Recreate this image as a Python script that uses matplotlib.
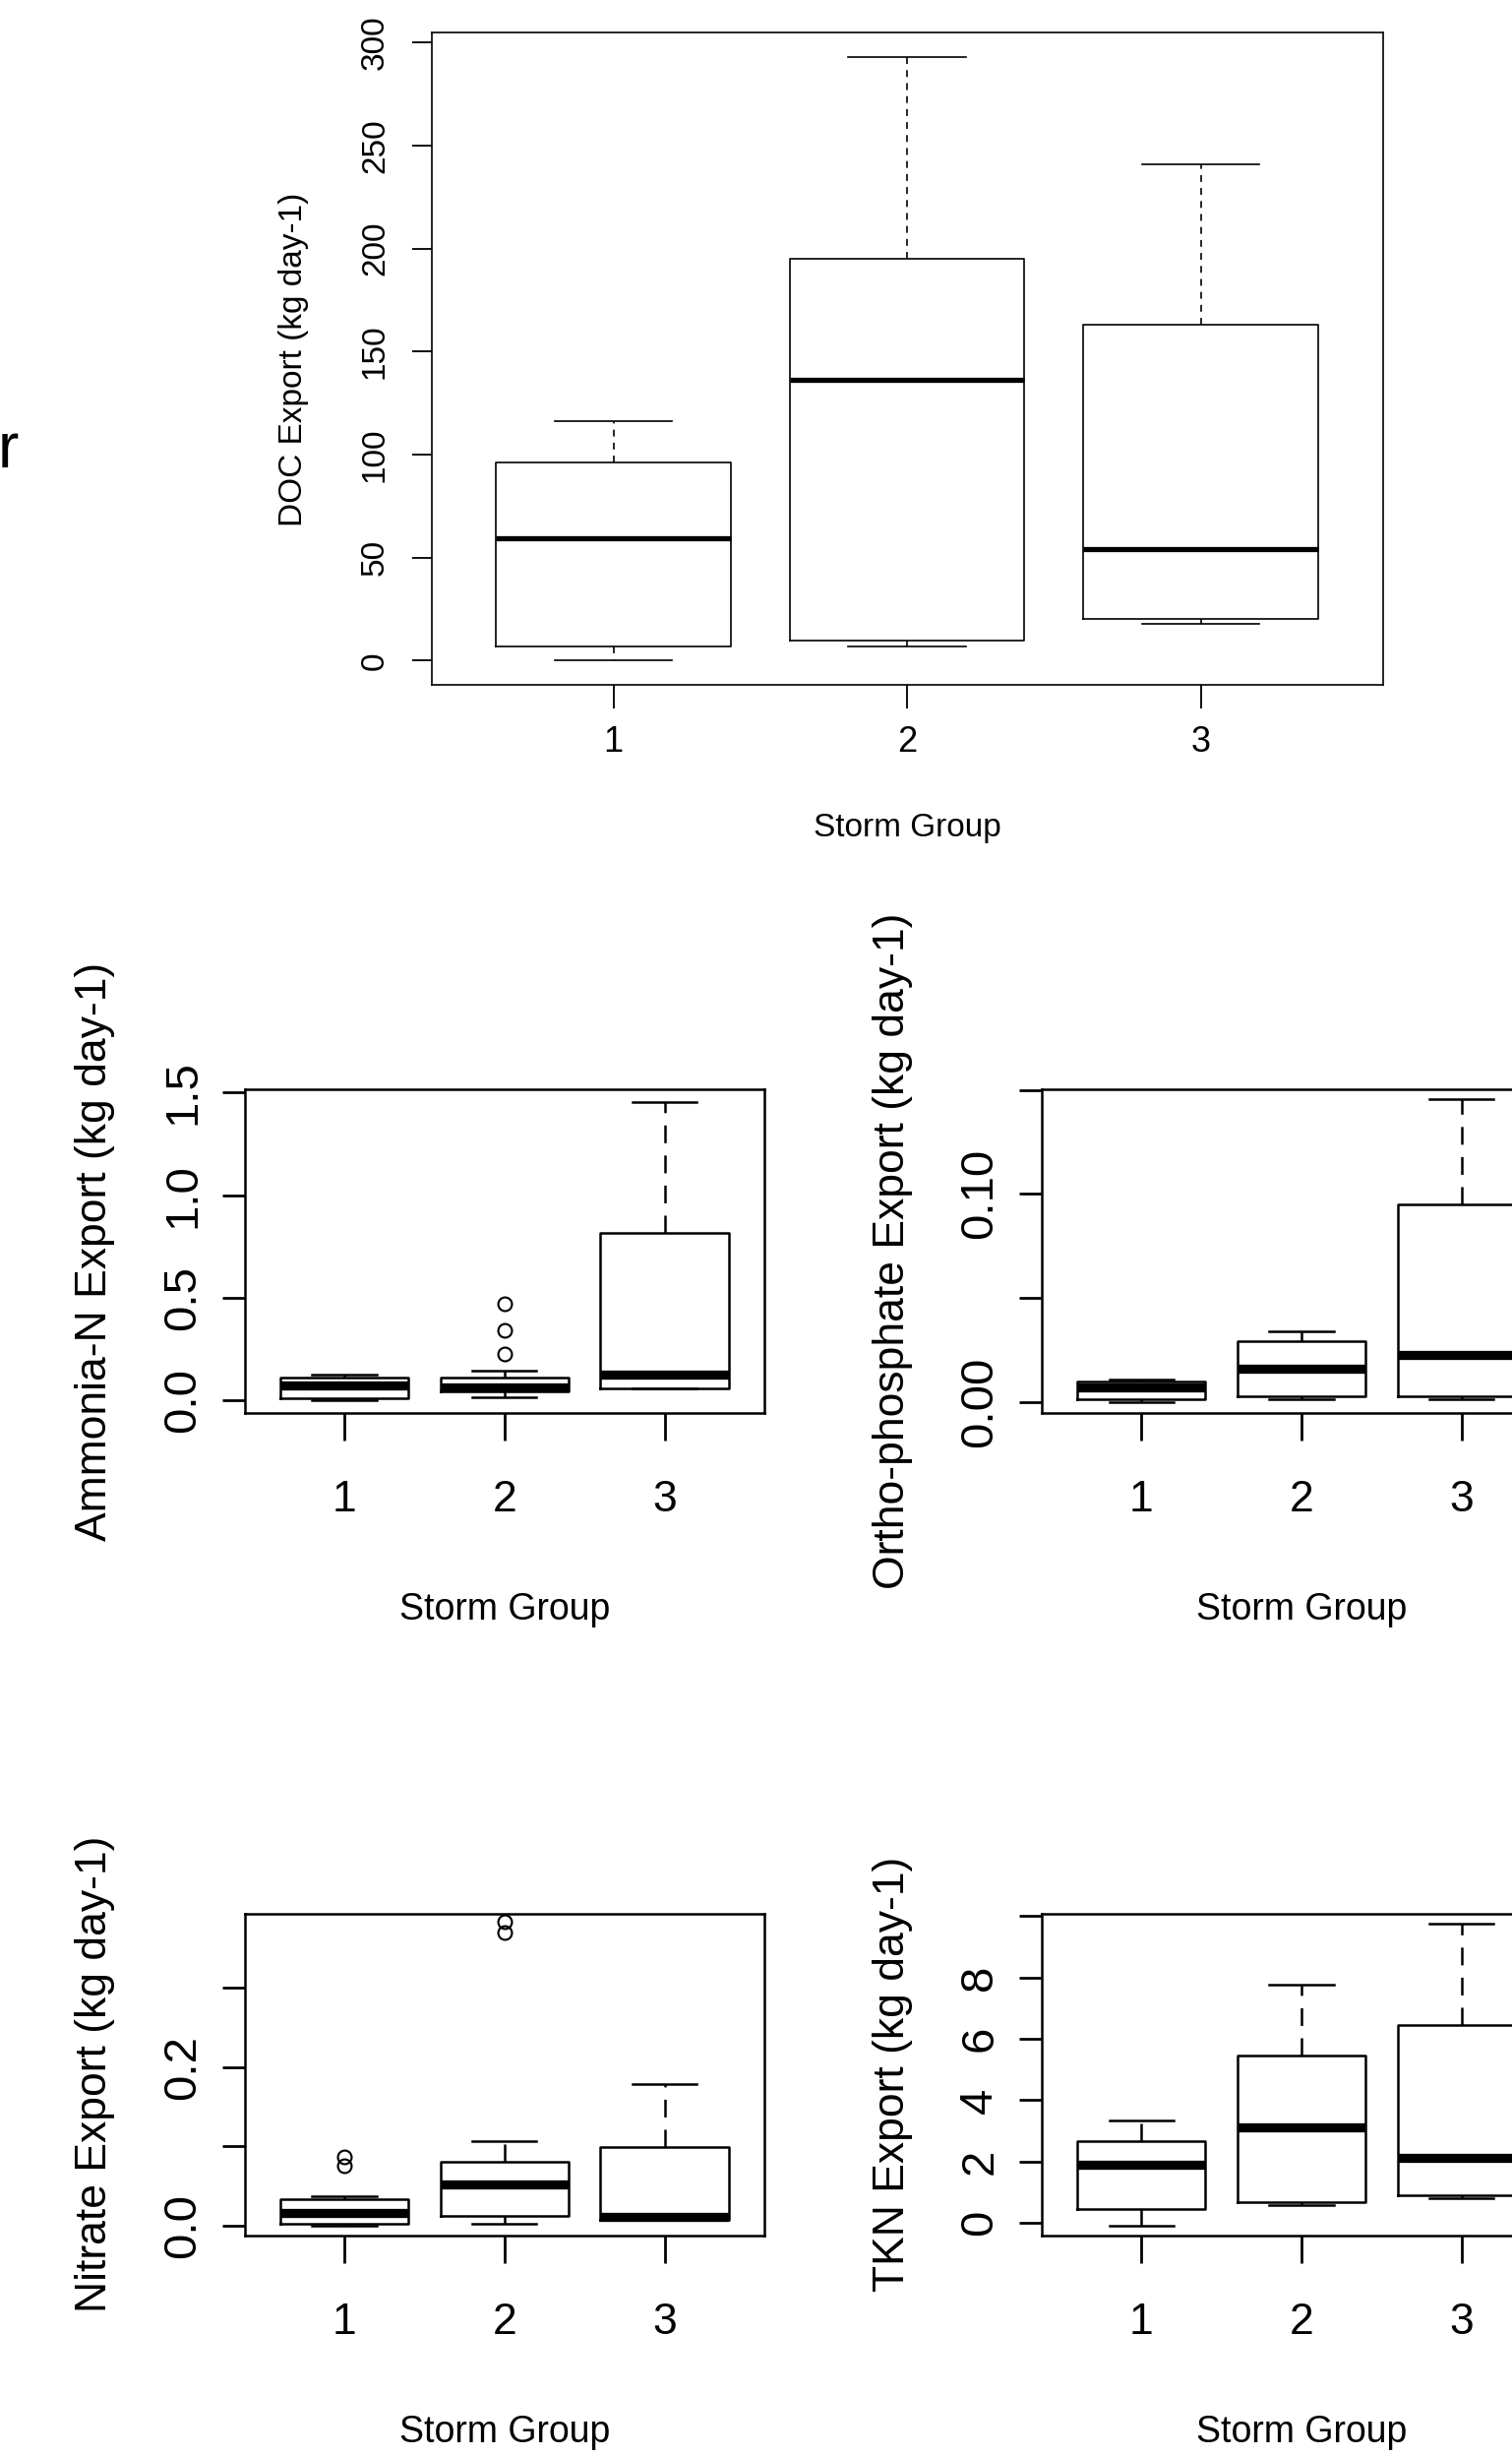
import matplotlib
matplotlib.use('Agg')
import matplotlib.pyplot as plt
from matplotlib import font_manager

# figure size in pixels
W, H = 1537, 2496

groups = [1, 2, 3]
group_labels = ['1', '2', '3']

# DOC export (kg day-1)
doc_lo = [0.0, 7.0, 18.0]
doc_q1 = [7.0, 10.0, 20.5]
doc_med = [59.5, 136.5, 54.0]
doc_q3 = [96.0, 195.0, 163.0]
doc_hi = [116.0, 293.0, 241.0]
doc_fliers = [[], [], []]

# Ammonia-N export
nh4_lo = [0.0, 0.015, 0.06]
nh4_q1 = [0.01, 0.044, 0.06]
nh4_med = [0.075, 0.063, 0.128]
nh4_q3 = [0.111, 0.111, 0.818]
nh4_hi = [0.128, 0.145, 1.455]
nh4_fliers = [[], [0.225, 0.341, 0.472], []]

# Ortho-phosphate export
po4_lo = [0.0, 0.0015, 0.0015]
po4_q1 = [0.0012, 0.0027, 0.0027]
po4_med = [0.0068, 0.016, 0.0225]
po4_q3 = [0.0097, 0.0291, 0.0952]
po4_hi = [0.0109, 0.0341, 0.1455]
po4_fliers = [[], [], []]

# Nitrate export
no3_lo = [0.0, 0.003, 0.0077]
no3_q1 = [0.0024, 0.0118, 0.0077]
no3_med = [0.016, 0.0515, 0.0112]
no3_q3 = [0.0337, 0.081, 0.0988]
no3_hi = [0.0367, 0.1065, 0.179]
no3_fliers = [[0.075, 0.087], [0.369, 0.383], []]

# TKN export
tkn_lo = [-0.08, 0.59, 0.81]
tkn_q1 = [0.46, 0.69, 0.90]
tkn_med = [1.91, 3.13, 2.13]
tkn_q3 = [2.67, 5.46, 6.45]
tkn_hi = [3.34, 7.77, 9.76]
tkn_fliers = [[], [], []]

names = {f.name for f in font_manager.fontManager.ttflist}
SANS = 'Liberation Sans'
NARROW = 'Liberation Sans Narrow' if 'Liberation Sans Narrow' in names else SANS
plt.rcParams['font.family'] = SANS
plt.rcParams['lines.scale_dashes'] = False

fig = plt.figure(figsize=(W / 100, H / 100), dpi=100)


def px_axes(x0, y0, x1, y1):
    return fig.add_axes([x0 / W, 1 - y1 / H, (x1 - x0) / W, (y1 - y0) / H])


def stats(lo, q1, med, q3, hi, fl):
    return [dict(whislo=a, q1=b, med=c, q3=d, whishi=e, fliers=f)
            for a, b, c, d, e, f in zip(lo, q1, med, q3, hi, fl)]


def draw_panel(ax, st, ylim, yticks, ylabels, lw, medlw, dash, ms, xt_font, xt_size,
               yt_size, ylen, xlen, ypad, xpad):
    ax.bxp(st, positions=groups, widths=0.8, capwidths=0.4,
           boxprops=dict(color='black', linewidth=lw),
           medianprops=dict(color='black', linewidth=medlw, solid_capstyle='butt'),
           whiskerprops=dict(color='black', linewidth=lw, linestyle=(0, dash)),
           capprops=dict(color='black', linewidth=lw),
           flierprops=dict(marker='o', markerfacecolor='none', markeredgecolor='black',
                           markersize=ms, markeredgewidth=lw * 0.85))
    ax.set_xlim(0.38, 3.62)
    ax.set_ylim(*ylim)
    ax.set_xticks(groups)
    ax.set_xticklabels(group_labels, fontsize=xt_size, family=xt_font)
    ax.set_yticks(yticks)
    ax.set_yticklabels(ylabels, fontsize=yt_size, rotation=90, va='center')
    ax.tick_params(axis='y', direction='out', length=ylen, width=lw * 1.1, pad=ypad)
    ax.tick_params(axis='x', direction='out', length=xlen, width=lw * 1.1, pad=xpad)
    for s in ax.spines.values():
        s.set_linewidth(lw)
        s.set_color('black')


def fig_text(x, y, s, **kw):
    fig.text(x / W, 1 - y / H, s, ha='center', va='center', **kw)


# ---- top panel: DOC ----
ax = px_axes(438.5, 32.8, 1405.6, 696)
draw_panel(ax, stats(doc_lo, doc_q1, doc_med, doc_q3, doc_hi, doc_fliers),
           (-11.7, 304.9), [0, 50, 100, 150, 200, 250, 300],
           ['0', '50', '100', '150', '200', '250', '300'],
           lw=1.2, medlw=3.8, dash=(5, 4.5), ms=8, xt_font=SANS, xt_size=26,
           yt_size=24, ylen=14.4, xlen=17.3, ypad=15.5, xpad=12.5)
fig_text(922, 841, 'Storm Group', fontsize=24)
fig_text(298, 365, 'DOC Export (kg day-1)', fontsize=24, rotation=90)
fig.text(-2 / W, 1 - 475 / H, 'r', fontsize=46, ha='left', va='baseline')

# ---- middle and bottom panels ----
panels = [
    ((249, 1107, 776.5, 1436), stats(nh4_lo, nh4_q1, nh4_med, nh4_q3, nh4_hi, nh4_fliers),
     (-0.06, 1.515), [0.0, 0.5, 1.0, 1.5], ['0.0', '0.5', '1.0', '1.5'],
     'Ammonia-N Export (kg day-1)'),
    ((1059.3, 1107, 1586.8, 1436), stats(po4_lo, po4_q1, po4_med, po4_q3, po4_hi, po4_fliers),
     (-0.0053, 0.1503), [0.0, 0.05, 0.10, 0.15], ['0.00', '', '0.10', ''],
     'Ortho-phosphate Export (kg day-1)'),
    ((249, 1944.5, 776.5, 2272), stats(no3_lo, no3_q1, no3_med, no3_q3, no3_hi, no3_fliers),
     (-0.0124, 0.3936), [0.0, 0.1, 0.2, 0.3], ['0.0', '', '0.2', ''],
     'Nitrate Export (kg day-1)'),
    ((1059.3, 1944.5, 1586.8, 2272), stats(tkn_lo, tkn_q1, tkn_med, tkn_q3, tkn_hi, tkn_fliers),
     (-0.41, 10.09), [0, 2, 4, 6, 8, 10], ['0', '2', '4', '6', '8', ''],
     'TKN Export (kg day-1)'),
]

for (x0, y0, x1, y1), st, ylim, yt, yl, label in panels:
    ax = px_axes(x0, y0, x1, y1)
    draw_panel(ax, st, ylim, yt, yl, lw=1.8, medlw=6.7, dash=(13, 9), ms=10,
               xt_font=NARROW, xt_size=32, yt_size=34, ylen=16.6, xlen=20,
               ypad=13, xpad=29)
    xc = x0 + (776.5 - 249) / 2
    fig_text(xc, y1 + 200, 'Storm Group', fontsize=27, family=NARROW)
    fig_text(x0 - 152, (y0 + y1) / 2, label, fontsize=32, rotation=90)

fig.savefig('out.png', dpi=100)
